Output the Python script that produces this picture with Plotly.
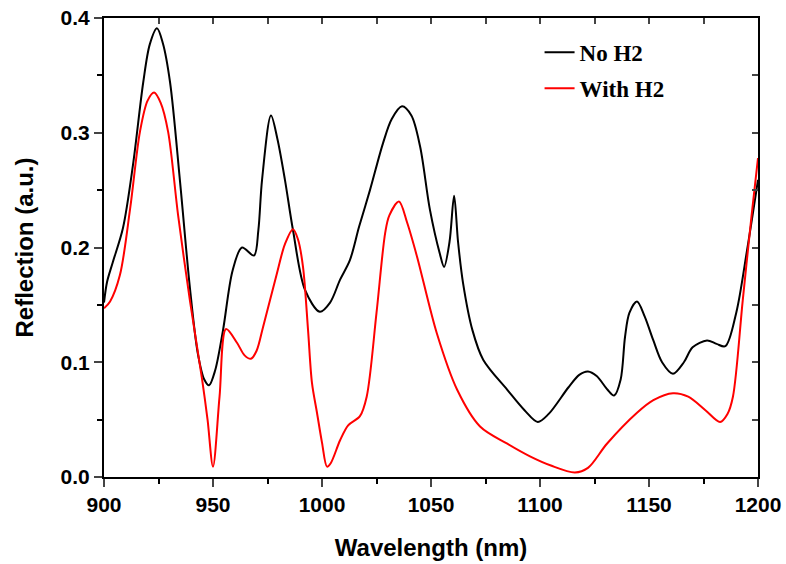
import plotly.graph_objects as go

# No H2 (black)
x_no = [900, 901.4, 904, 908.7, 913.3, 918, 921, 924.3, 927, 930.3, 934.9, 939.4, 943, 946, 948.2, 951, 954.6, 959, 963.3,
        968.8, 970.8, 972.5, 976.6, 979.5, 983, 986.7, 992.2, 999, 1003.7, 1008.3, 1012.8, 1017, 1022, 1028, 1032, 1036.7, 1041,
        1045, 1049.5, 1054, 1056, 1058.5, 1060.6, 1062.4, 1064.7, 1069, 1074, 1085, 1093, 1099, 1104, 1113, 1118, 1122,
        1126, 1131, 1134, 1137, 1139, 1141, 1144.5, 1148, 1152, 1156, 1161, 1166, 1170, 1176.6, 1181, 1185, 1190, 1195, 1200]
y_no = [0.152, 0.170, 0.187, 0.217, 0.272, 0.344, 0.377, 0.391, 0.378, 0.344, 0.257, 0.165, 0.108, 0.085, 0.080, 0.093, 0.128, 0.180, 0.200,
        0.193, 0.215, 0.259, 0.315, 0.295, 0.259, 0.215, 0.163, 0.144, 0.152, 0.172, 0.189, 0.218, 0.250, 0.291, 0.312, 0.323, 0.315,
        0.288, 0.233, 0.195, 0.183, 0.205, 0.245, 0.205, 0.169, 0.128, 0.102, 0.076, 0.058, 0.048, 0.055, 0.078, 0.089, 0.092,
        0.088, 0.076, 0.071, 0.085, 0.122, 0.143, 0.153, 0.140, 0.119, 0.100, 0.090, 0.100, 0.113, 0.119, 0.116, 0.114, 0.143, 0.198, 0.259]

# With H2 (red)
x_h2 = [900, 902.8, 907.3, 912, 916.5, 920, 923, 926, 929.4, 934, 939.4, 945, 947.5, 950, 953, 956, 961, 964.5, 967.4, 970,
        973, 979.4, 983, 986.7, 989, 991.3, 993.6, 995.4, 997.7, 1000, 1002.3, 1004, 1008.3, 1012, 1017.4, 1020.5, 1025, 1029,
        1030.9, 1035.3, 1039, 1043.6, 1052.7, 1062, 1072.5, 1085, 1095.4, 1105, 1116, 1122, 1130.7, 1144.5, 1152, 1161, 1168,
        1176, 1182.6, 1186, 1188.5, 1193, 1197, 1200]
y_h2 = [0.147, 0.153, 0.176, 0.234, 0.301, 0.328, 0.335, 0.326, 0.301, 0.228, 0.154, 0.085, 0.050, 0.009, 0.070, 0.129, 0.117, 0.106, 0.103, 0.110,
        0.131, 0.178, 0.203, 0.216, 0.207, 0.183, 0.128, 0.082, 0.056, 0.030, 0.009, 0.012, 0.032, 0.045, 0.053, 0.070, 0.143, 0.213,
        0.228, 0.240, 0.222, 0.192, 0.125, 0.076, 0.044, 0.029, 0.018, 0.010, 0.004, 0.008, 0.029, 0.056, 0.067, 0.073, 0.070,
        0.058, 0.048, 0.055, 0.070, 0.154, 0.227, 0.278]

x_ticks = [900, 950, 1000, 1050, 1100, 1150, 1200]
y_ticks = [0.0, 0.1, 0.2, 0.3, 0.4]

fig = go.Figure()
fig.add_trace(go.Scatter(x=x_no, y=y_no, mode="lines", name="No H2",
                         line=dict(color="black", width=2, shape="spline", smoothing=0.9), legendgroup="a"))
fig.add_trace(go.Scatter(x=x_h2, y=y_h2, mode="lines", name="With H2",
                         line=dict(color="#ff0000", width=2, shape="spline", smoothing=0.9), legendgroup="b"))

tickfont = dict(family="Liberation Sans, Arial", size=21, color="black", weight="bold")
titlefont = dict(family="Liberation Sans, Arial", size=24, color="black", weight="bold")

fig.update_layout(
    width=786, height=564,
    margin=dict(l=104, r=28, t=18, b=87, autoexpand=False),
    plot_bgcolor="white", paper_bgcolor="white",
    showlegend=True,
    legend=dict(x=0.666, y=0.972, xanchor="left", yanchor="top",
                font=dict(family="Liberation Serif, Times New Roman", size=23, color="black", weight="bold"),
                tracegroupgap=3, bgcolor="rgba(0,0,0,0)"),
    xaxis=dict(range=[900, 1200], tickvals=x_ticks, ticks="outside", ticklen=8, tickwidth=2, automargin=False,
               showline=True, linecolor="black", linewidth=2, showgrid=False, zeroline=False,
               tickfont=tickfont, title=dict(text="Wavelength (nm)", font=titlefont, standoff=24),
               minor=dict(dtick=25, tick0=900, ticks="outside", ticklen=5, tickwidth=2, tickcolor="black")),
    yaxis=dict(range=[0, 0.4], tickvals=y_ticks, tickformat=".1f", ticks="outside", ticklen=8, tickwidth=2, automargin=False,
               showline=True, linecolor="black", linewidth=2, showgrid=False, zeroline=False,
               tickfont=tickfont, title=dict(text="Reflection (a.u.)", font=titlefont, standoff=20),
               minor=dict(dtick=0.05, tick0=0, ticks="outside", ticklen=5, tickwidth=2, tickcolor="black")),
    xaxis2=dict(overlaying="x", matches="x", side="top", range=[900, 1200], dtick=25, tick0=900, automargin=False,
                ticks="inside", ticklen=6, tickwidth=2, showticklabels=False, showline=True,
                linecolor="black", linewidth=2, showgrid=False, zeroline=False),
    yaxis2=dict(overlaying="y", matches="y", side="right", range=[0, 0.4], dtick=0.05, tick0=0, automargin=False,
                ticks="inside", ticklen=6, tickwidth=2, showticklabels=False, showline=True,
                linecolor="black", linewidth=2, showgrid=False, zeroline=False),
)
fig.add_trace(go.Scatter(x=[900], y=[0], xaxis="x2", yaxis="y2", mode="markers",
                         marker=dict(opacity=0), showlegend=False, hoverinfo="skip"))

fig.write_html("out.html", config={"displayModeBar": False},
               post_script="document.body.style.margin='0';document.body.style.overflow='hidden';")
